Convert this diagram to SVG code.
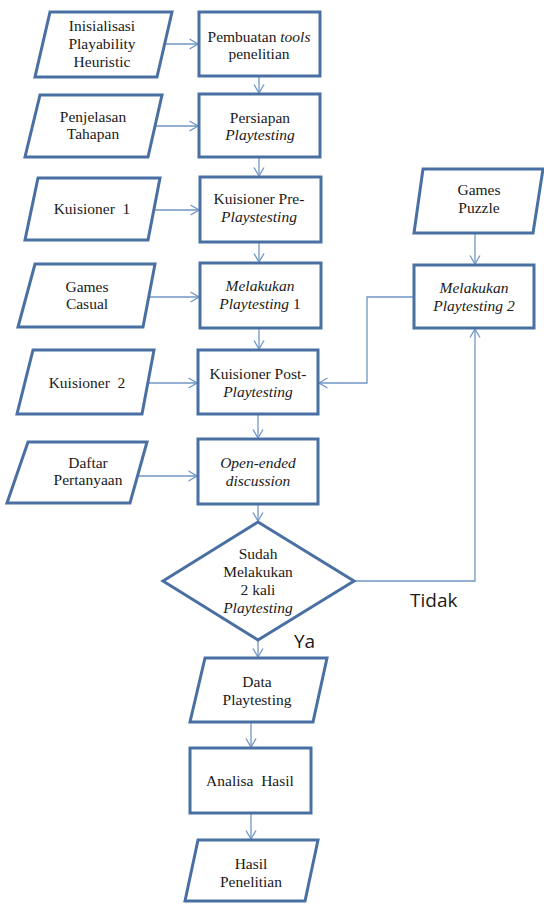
<svg xmlns="http://www.w3.org/2000/svg" width="544" height="904" viewBox="0 0 544 904">
<style>
.shape{fill:#ffffff;stroke:#4a70a3;stroke-width:3;stroke-linejoin:miter}
.conn{fill:none;stroke:#7096c6;stroke-width:1.3}
.t{font-family:"Liberation Serif","Times New Roman",serif;font-size:15.5px;fill:#1a1a1a;text-anchor:middle}
.i{font-style:italic}
.lbl{font-family:"Open Sans","DejaVu Sans",sans-serif;font-size:19px;fill:#1a1a1a}
</style>
<defs>
<marker id="arr" viewBox="0 0 10 12" refX="9.5" refY="6" markerWidth="10" markerHeight="12" markerUnits="userSpaceOnUse" orient="auto">
<path d="M1,1 L9.5,6 L1,11" fill="none" stroke="#7096c6" stroke-width="1.3"/>
</marker>
</defs>
<rect width="544" height="904" fill="#ffffff"/>
<g id="connectors">
<path class="conn" marker-end="url(#arr)" d="M165,44 H198"/>
<path class="conn" marker-end="url(#arr)" d="M155,126 H198"/>
<path class="conn" marker-end="url(#arr)" d="M154,210 H199"/>
<path class="conn" marker-end="url(#arr)" d="M150,297 H199"/>
<path class="conn" marker-end="url(#arr)" d="M148,383 H197"/>
<path class="conn" marker-end="url(#arr)" d="M138,476 H197"/>
<path class="conn" marker-end="url(#arr)" d="M259,77 V93"/>
<path class="conn" marker-end="url(#arr)" d="M259,158 V176"/>
<path class="conn" marker-end="url(#arr)" d="M259,243 V262"/>
<path class="conn" marker-end="url(#arr)" d="M259,329 V349"/>
<path class="conn" marker-end="url(#arr)" d="M258,415 V438"/>
<path class="conn" marker-end="url(#arr)" d="M258,505 V521"/>
<path class="conn" marker-end="url(#arr)" d="M475,234 V264"/>
<path class="conn" marker-end="url(#arr)" d="M414,297 H367 V383 H319"/>
<path class="conn" marker-end="url(#arr)" d="M355,581 H475 V329"/>
<path class="conn" marker-end="url(#arr)" d="M258,641 V657"/>
<path class="conn" marker-end="url(#arr)" d="M251,723 V747"/>
<path class="conn" marker-end="url(#arr)" d="M251,814 V839"/>
</g>
<g id="n-inisialisasi">
<polygon class="shape" points="50,12 172,12 157,77 35,77"/>
<text class="t" x="102" y="31">Inisialisasi</text>
<text class="t" x="102" y="49">Playability</text>
<text class="t" x="102" y="67">Heuristic</text>
</g>
<g id="n-pembuatan">
<rect class="shape" x="199" y="12" width="121" height="64"/>
<text class="t" x="259" y="42">Pembuatan <tspan class="i">tools</tspan></text>
<text class="t" x="259" y="59">penelitian</text>
</g>
<g id="n-penjelasan">
<polygon class="shape" points="40,95 162,95 148,157 25,157"/>
<text class="t" x="93" y="122">Penjelasan</text>
<text class="t" x="93" y="139">Tahapan</text>
</g>
<g id="n-persiapan">
<rect class="shape" x="199" y="94" width="121" height="63"/>
<text class="t" x="260" y="123">Persiapan</text>
<text class="t i" x="260" y="140">Playtesting</text>
</g>
<g id="n-kuisioner1">
<polygon class="shape" points="38,178 160,178 148,240 25,240"/>
<text class="t" x="92" y="214" xml:space="preserve">Kuisioner  1</text>
</g>
<g id="n-pre">
<rect class="shape" x="200" y="177" width="121" height="65"/>
<text class="t" x="259" y="204">Kuisioner  Pre-</text>
<text class="t i" x="259" y="222">Playstesting</text>
</g>
<g id="n-casual">
<polygon class="shape" points="35,264 155,264 143,327 18,327"/>
<text class="t" x="87" y="292">Games</text>
<text class="t" x="87" y="309">Casual</text>
</g>
<g id="n-play1">
<rect class="shape" x="200" y="263" width="121" height="65"/>
<text class="t i" x="260" y="291">Melakukan</text>
<text class="t" x="260" y="309"><tspan class="i">Playtesting</tspan> 1</text>
</g>
<g id="n-kuisioner2">
<polygon class="shape" points="33,350 154,350 142,414 17,414"/>
<text class="t" x="87" y="388" xml:space="preserve">Kuisioner  2</text>
</g>
<g id="n-post">
<rect class="shape" x="198" y="350" width="120" height="64"/>
<text class="t" x="258" y="379">Kuisioner  Post-</text>
<text class="t i" x="258" y="397">Playtesting</text>
</g>
<g id="n-daftar">
<polygon class="shape" points="28,442 147,442 130,503 7,503"/>
<text class="t" x="88" y="468">Daftar</text>
<text class="t" x="88" y="485">Pertanyaan</text>
</g>
<g id="n-open">
<rect class="shape" x="198" y="439" width="120" height="65"/>
<text class="t i" x="258" y="468">Open-ended</text>
<text class="t i" x="258" y="486">discussion</text>
</g>
<g id="n-decision">
<polygon class="shape" points="258,522 354,581 258,640 163,581"/>
<text class="t" x="258" y="559">Sudah</text>
<text class="t" x="258" y="577">Melakukan</text>
<text class="t" x="258" y="595">2 kali</text>
<text class="t i" x="258" y="613">Playtesting</text>
</g>
<g id="n-puzzle">
<polygon class="shape" points="423,169 543,169 533,233 414,233"/>
<text class="t" x="479" y="195">Games</text>
<text class="t" x="479" y="213">Puzzle</text>
</g>
<g id="n-play2">
<rect class="shape" x="414" y="265" width="120" height="63"/>
<text class="t i" x="474" y="293">Melakukan</text>
<text class="t i" x="474" y="311">Playtesting 2</text>
</g>
<g id="n-data">
<polygon class="shape" points="205,658 327,658 313,722 190,722"/>
<text class="t" x="257" y="687">Data</text>
<text class="t" x="257" y="705">Playtesting</text>
</g>
<g id="n-analisa">
<rect class="shape" x="190" y="748" width="121" height="65"/>
<text class="t" x="250" y="786" xml:space="preserve">Analisa  Hasil</text>
</g>
<g id="n-hasil">
<polygon class="shape" points="198,840 318,840 305,901 185,901"/>
<text class="t" x="251" y="869">Hasil</text>
<text class="t" x="251" y="887">Penelitian</text>
</g>
<g id="labels">
<text class="lbl" x="410" y="607">Tidak</text>
<text class="lbl" x="294" y="648">Ya</text>
</g>
</svg>
